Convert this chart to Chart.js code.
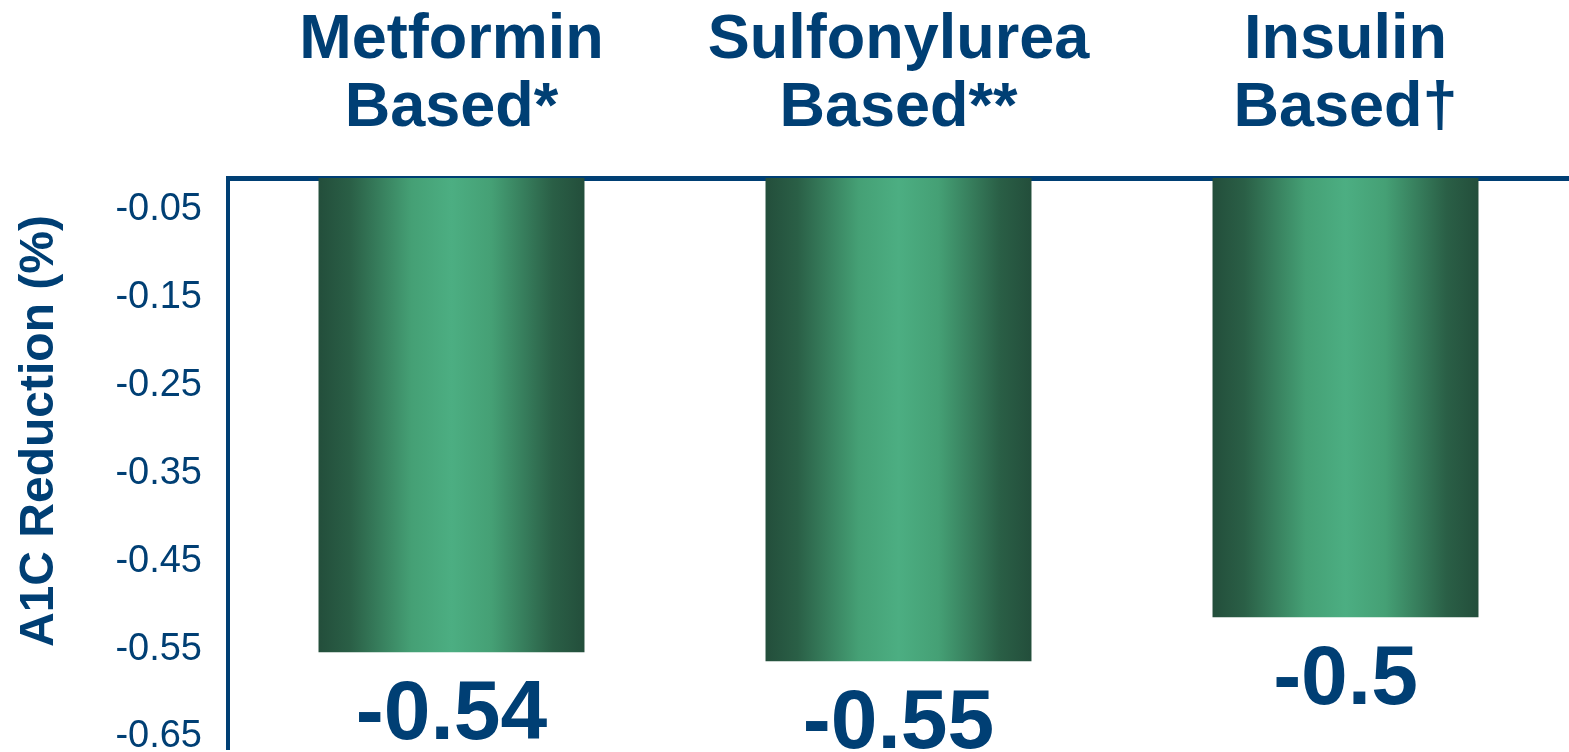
<!DOCTYPE html>
<html>
<head>
<meta charset="utf-8">
<script src="https://cdn.jsdelivr.net/npm/chart.js@4"></script>
<style>
  html, body { margin: 0; padding: 0; background: #fff; }
  #wrap { width: 1569px; height: 752px; }
</style>
</head>
<body>
<div id="wrap"><canvas id="myChart" width="1569" height="752"></canvas></div>
<script>
// data
var categories = [['Metformin', 'Based*'], ['Sulfonylurea', 'Based**'], ['Insulin', 'Based\u2020']];
var reduction = [-0.54, -0.55, -0.5];
var tickValues = [-0.05, -0.15, -0.25, -0.35, -0.45, -0.55, -0.65];
var axisTitle = 'A1C Reduction (%)';

var navy = '#003f74';
var fontFamily = '"Liberation Sans", Arial, sans-serif';
var barPct = 0.595;

// shaded green bars, dark at the edges and light in the middle
function barGradient(c) {
    var ch = c.chart;
    if (!ch.chartArea) return '#3c8f68';
    var xs = ch.scales.x;
    var cx = xs.getPixelForValue(c.dataIndex);
    var w = xs.width / categories.length * barPct;
    var g = ch.ctx.createLinearGradient(cx - w / 2, 0, cx + w / 2, 0);
    g.addColorStop(0, '#234e3b');
    g.addColorStop(0.12, '#2a5f46');
    g.addColorStop(0.35, '#45a075');
    g.addColorStop(0.5, '#4cae82');
    g.addColorStop(0.65, '#45a075');
    g.addColorStop(0.88, '#2a5f46');
    g.addColorStop(1, '#234e3b');
    return g;
}

// big value under each bar + rotated axis title
var extraText = {
    id: 'extraText',
    afterDatasetsDraw: function (chart) {
        var ctx = chart.ctx;
        var xs = chart.scales.x;
        ctx.save();
        ctx.fillStyle = navy;
        ctx.font = 'bold 84px ' + fontFamily;
        ctx.textAlign = 'center';
        ctx.textBaseline = 'alphabetic';
        chart.getDatasetMeta(0).data.forEach(function (bar, i) {
            ctx.fillText(String(reduction[i]), xs.getPixelForValue(i), bar.y + 87);
        });
        ctx.translate(40, 431);
        ctx.rotate(-Math.PI / 2);
        ctx.font = 'bold 48px ' + fontFamily;
        ctx.textBaseline = 'middle';
        ctx.fillText(axisTitle, 0, 0);
        ctx.restore();
    }
};

var ctx = document.getElementById('myChart').getContext('2d');
var chart = new Chart(ctx, {
    type: 'bar',
    data: {
        labels: categories,
        datasets: [{
            label: axisTitle,
            data: reduction,
            backgroundColor: barGradient,
            borderWidth: 0,
            barPercentage: barPct,
            categoryPercentage: 1
        }]
    },
    options: {
        responsive: false,
        animation: false,
        layout: { padding: { top: 3, bottom: 3, left: 0, right: 0 } },
        plugins: {
            legend: { display: false },
            tooltip: { enabled: false }
        },
        scales: {
            x: {
                position: 'top',
                afterFit: function (axis) { axis.height = 175; },
                grid: { display: false, drawTicks: false },
                border: { display: true, color: navy, width: 5 },
                ticks: {
                    color: navy,
                    padding: 35,
                    maxRotation: 0,
                    font: { family: fontFamily, size: 63, weight: 'bold', lineHeight: 68 / 63 }
                }
            },
            y: {
                min: -0.65,
                max: 0,
                afterBuildTicks: function (axis) {
                    axis.ticks = tickValues.map(function (v) { return { value: v }; });
                },
                afterFit: function (axis) {
                    axis.width = 228;
                    axis.paddingTop = 0;
                    axis.paddingBottom = 0;
                },
                grid: { display: false, drawTicks: false },
                border: { display: true, color: navy, width: 4 },
                ticks: {
                    color: navy,
                    padding: 26,
                    labelOffset: -12,
                    font: { family: fontFamily, size: 38 },
                    callback: function (v) { return String(v); }
                }
            }
        }
    },
    plugins: [extraText]
});
</script>
</body>
</html>
